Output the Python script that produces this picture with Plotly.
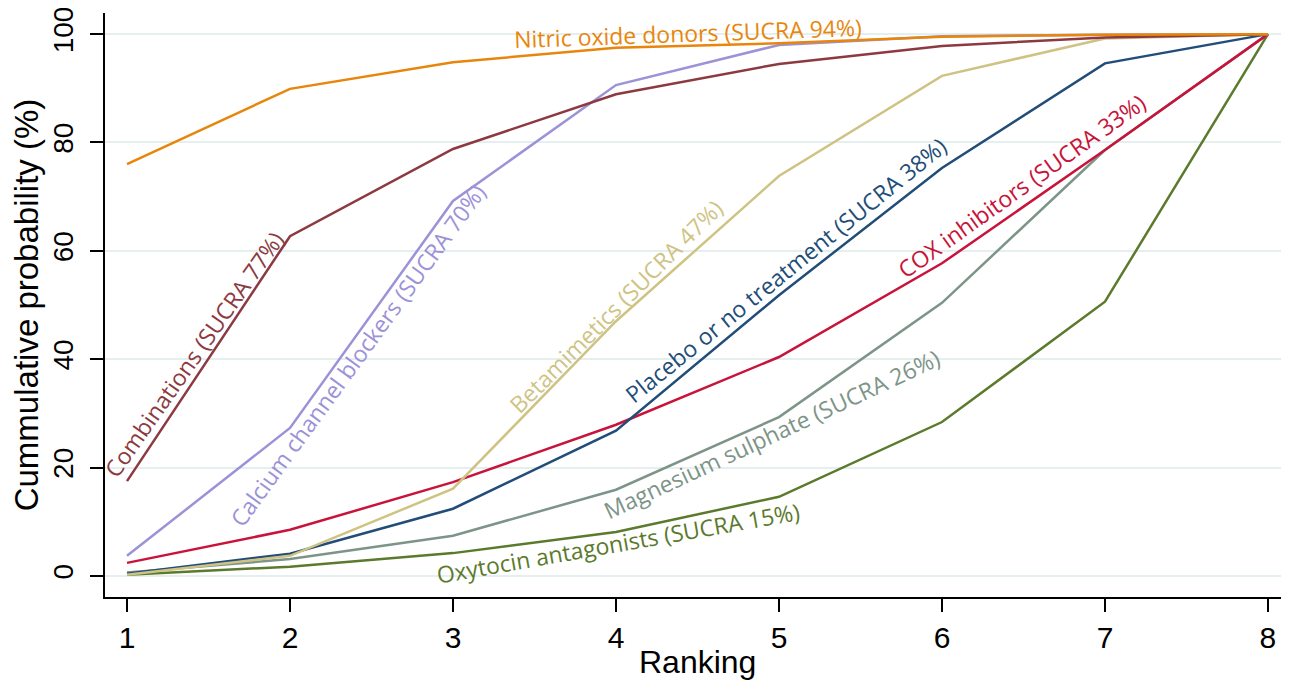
import math
import plotly.graph_objects as go

# ranks and cumulative probabilities (%)
ranks = [1, 2, 3, 4, 5, 6, 7, 8]

nitric_oxide = [76.0, 89.9, 94.8, 97.5, 98.3, 99.5, 99.9, 100]
combinations = [17.5, 62.7, 78.8, 88.9, 94.5, 97.8, 99.4, 100]
calcium_blockers = [3.7, 27.3, 69.2, 90.6, 98.0, 99.6, 99.9, 100]
betamimetics = [0.2, 3.7, 16.1, 47.0, 73.8, 92.3, 99.2, 100]
placebo = [0.4, 4.1, 12.4, 26.8, 51.8, 75.3, 94.6, 100]
cox_inhibitors = [2.4, 8.5, 17.3, 27.9, 40.4, 57.7, 78.6, 100]
magnesium = [0.6, 3.1, 7.4, 15.9, 29.3, 50.4, 78.6, 100]
oxytocin = [0.2, 1.7, 4.2, 8.1, 14.6, 28.4, 50.6, 100]

series = [
    ("Oxytocin antagonists (SUCRA 15%)", oxytocin, "#5b7a2c"),
    ("Magnesium sulphate (SUCRA 26%)", magnesium, "#7d9488"),
    ("COX inhibitors (SUCRA 33%)", cox_inhibitors, "#c8133a"),
    ("Placebo or no treatment (SUCRA 38%)", placebo, "#214d78"),
    ("Betamimetics (SUCRA 47%)", betamimetics, "#cfc384"),
    ("Calcium channel blockers (SUCRA 70%)", calcium_blockers, "#9b92d8"),
    ("Combinations (SUCRA 77%)", combinations, "#8c3a40"),
    ("Nitric oxide donors (SUCRA 94%)", nitric_oxide, "#e8860c"),
]

# label placement: (x, y, angle, nudge away from the line in px)
label_pos = {
    "Nitric oxide donors (SUCRA 94%)": (4.44, 99.8, -2, 2),
    "Combinations (SUCRA 77%)": (1.44, 40.4, -55, 6),
    "Calcium channel blockers (SUCRA 70%)": (2.43, 40.4, -54, 3),
    "Betamimetics (SUCRA 47%)": (4.03, 48.9, -45, 7),
    "Placebo or no treatment (SUCRA 38%)": (5.07, 55.4, -39, 8),
    "COX inhibitors (SUCRA 33%)": (6.50, 71.4, -35.5, 4),
    "Magnesium sulphate (SUCRA 26%)": (4.96, 25.8, -25, 2),
    "Oxytocin antagonists (SUCRA 15%)": (4.01, 6.1, -10, 0),
}

fig = go.Figure()

for name, vals, col in series:
    fig.add_trace(go.Scatter(x=ranks, y=vals, mode="lines", name=name,
                             line=dict(color=col, width=2.5)))
    lx, ly, ang, d = label_pos[name]
    a = math.radians(ang)
    fig.add_annotation(x=lx, y=ly, text=name, textangle=ang, showarrow=False,
                       font=dict(family="Open Sans", size=23, color=col),
                       xanchor="center", yanchor="middle",
                       xshift=d * math.sin(a), yshift=d * math.cos(a))

# x axis title as annotation so it can sit a little lower
fig.add_annotation(x=0.5, y=0, xref="paper", yref="paper", text="Ranking",
                   showarrow=False, xanchor="center", yanchor="middle",
                   xshift=4, yshift=-65, font=dict(size=32))

# page body has an 8px margin, so the figure is sized to fit inside it
fig.update_layout(
    width=1273, height=673,
    margin=dict(l=97, r=0, t=5, b=84),
    plot_bgcolor="white", paper_bgcolor="white",
    showlegend=False,
    font=dict(family="Liberation Sans, Arial", color="black"),
)

fig.update_xaxes(
    range=[0.865, 8.08], tickvals=ranks, automargin=False,
    showline=True, linecolor="black", linewidth=2,
    ticks="outside", ticklen=13, tickwidth=2, tickcolor="black",
    tickfont=dict(size=30),
    showgrid=False, zeroline=False,
)
fig.update_yaxes(
    range=[-3.9, 103.9], tickvals=[0, 20, 40, 60, 80, 100],
    tickangle=-90, automargin=False, ticklabeloverflow="allow",
    showline=True, linecolor="black", linewidth=2,
    ticks="outside", ticklen=13, tickwidth=2, tickcolor="black",
    tickfont=dict(size=28), ticklabelstandoff=6,
    showgrid=True, gridcolor="#e6eff0", gridwidth=2, zeroline=False,
    title=dict(text="Cummulative probability (%)", font=dict(size=33), standoff=0),
)

fig.write_html("out.html")
